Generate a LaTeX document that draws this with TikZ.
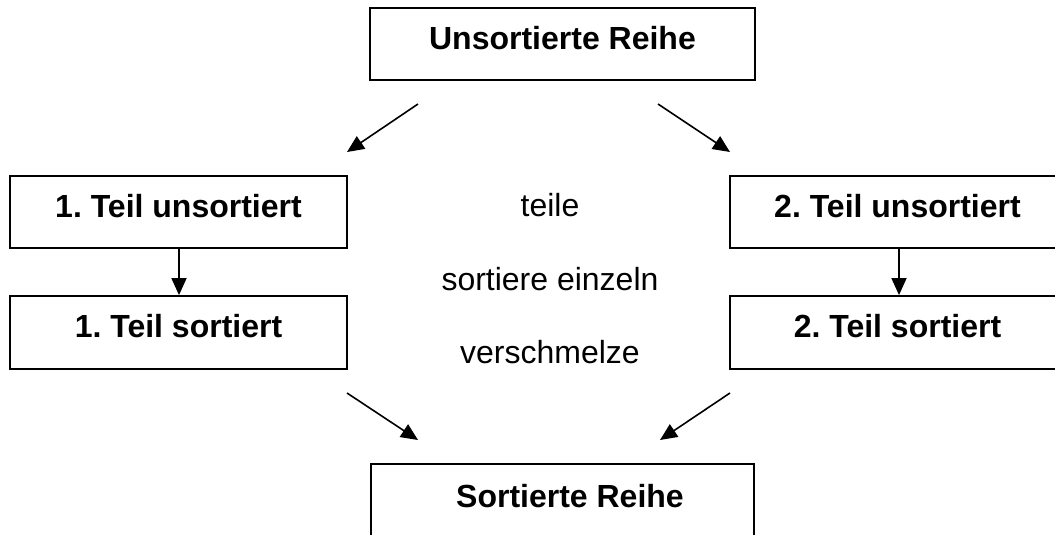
\documentclass[tikz,border=0pt]{standalone}
\usepackage{fontspec}
\setmainfont{Liberation Sans}
\usetikzlibrary{arrows.meta}
\frenchspacing
\begin{document}
\begin{tikzpicture}[x=1pt,y=-1pt,
  box/.style={draw, line width=1.8pt, rectangle, inner sep=0pt},
  lbl/.style={anchor=base, inner sep=0pt, font=\fontsize{32}{38}\selectfont\bfseries},
  mid/.style={anchor=base, inner sep=0pt, font=\fontsize{32}{38}\selectfont},
  arr/.style={line width=1.6pt, -{Triangle[length=17pt,width=15pt]}}]
\useasboundingbox (0,0) rectangle (1055,535);
\begin{scope}
\clip (0,0) rectangle (1055,535);
% boxes
\node[box, minimum width=385pt, minimum height=72pt] (top) at (562.5,44) {};
\node[box, minimum width=337pt, minimum height=72pt] (l1) at (178.5,212) {};
\node[box, minimum width=337pt, minimum height=73pt] (l2) at (178.5,332.5) {};
\node[box, minimum width=340pt, minimum height=72pt] (r1) at (900,212) {};
\node[box, minimum width=340pt, minimum height=73pt] (r2) at (900,332.5) {};
\node[box, minimum width=383pt, minimum height=136pt] (bot) at (562.5,532) {};
% labels
\node[lbl] (ttop) at (562.5,50) {Unsortierte Reihe};
\node[lbl] (tl1) at (178.5,217) {1. Teil unsortiert};
\node[lbl] (tl2) at (178.5,337) {1. Teil sortiert};
\node[lbl] (tr1) at (897.5,217) {2. Teil unsortiert};
\node[lbl] (tr2) at (897.5,337) {2. Teil sortiert};
\node[lbl] (tbot) at (570,507) {Sortierte Reihe};
% middle text
\node[mid] (m1) at (550,216) {teile};
\node[mid] (m2) at (550,290) {sortiere einzeln};
\node[mid] (m3) at (550,363) {verschmelze};
% arrow ends
\coordinate (a1s) at (418,104);
\coordinate (a1e) at (347,152);
\coordinate (a2s) at (658,104);
\coordinate (a2e) at (730,152);
\coordinate (a3s) at (347,393);
\coordinate (a3e) at (418,440);
\coordinate (a4s) at (730,393);
\coordinate (a4e) at (660,440);
\draw[arr] (a1s) -- (a1e);
\draw[arr] (a2s) -- (a2e);
\draw[arr] (a3s) -- (a3e);
\draw[arr] (a4s) -- (a4e);
\draw[arr] ([xshift=0.5pt]l1.south) -- ([xshift=0.5pt]l2.north);
\draw[arr] ([xshift=-1pt]r1.south) -- ([xshift=-1pt]r2.north);
\end{scope}
\end{tikzpicture}
\end{document}
